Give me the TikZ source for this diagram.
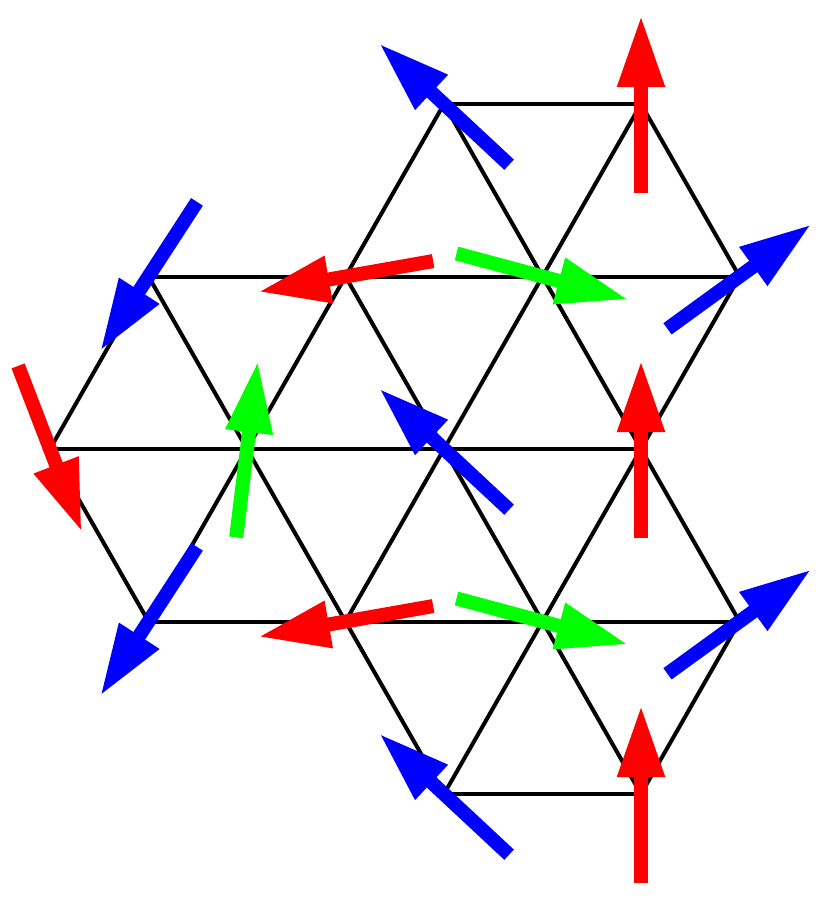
\documentclass[tikz,border=0pt]{standalone}
\usetikzlibrary{arrows.meta, calc}

\tikzset{
  bond/.style={line width=4pt, black, line cap=round},
  spin/.style={line width=14pt, -{Triangle[length=72pt, width=44pt]}},
}

\begin{document}
\begin{tikzpicture}[x=1pt, y=-1pt]
  \useasboundingbox (0,0) rectangle (830,899);
  % lattice sites (p, r)
  \foreach \p/\r in {4/0,6/0,1/1,3/1,5/1,7/1,0/2,2/2,4/2,6/2,1/3,3/3,5/3,7/3,4/4,6/4}
    \coordinate (v\p\r) at ({50+98.5*\p}, {104+172.5*\r});

  % bonds
  \foreach \a/\b in {v40/v60, v11/v71, v02/v62, v13/v73, v44/v64,
                     v02/v11, v13/v40, v33/v60, v44/v71, v64/v73,
                     v02/v13, v11/v44, v31/v64, v40/v73, v60/v71}
    \draw[bond] (\a) -- (\b);

  % spins
  \foreach \v/\ang/\col in {v40/137/blue, v60/90/red,
                            v11/-123/blue, v31/190/red, v51/-15/green, v71/36/blue,
                            v02/-69/red, v22/83/green, v42/137/blue, v62/90/red,
                            v13/-123/blue, v33/190/red, v53/-15/green, v73/36/blue,
                            v44/137/blue, v64/90/red}
    \draw[spin, \col] ($(\v)+(-\ang:-89)$) -- ($(\v)+(-\ang:89)$);
\end{tikzpicture}
\end{document}
